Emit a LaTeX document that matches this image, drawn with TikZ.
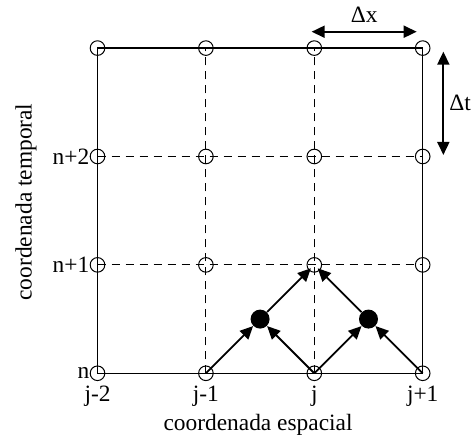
\documentclass[tikz,border=0pt]{standalone}
\usepackage{fontspec}
\setmainfont{Liberation Serif}
\usetikzlibrary{positioning, arrows.meta}

\begin{document}
\begin{tikzpicture}[x=54.2pt, y=54.2pt, font=\fontsize{11.7}{14}\selectfont,
  gridpt/.style={circle, draw, line width=0.5pt, inner sep=0pt, minimum size=7.3pt},
  midpt/.style={circle, fill, inner sep=0pt, minimum size=9.5pt},
  stencil/.style={line width=0.9pt, -{Triangle[length=6.5pt, width=6pt]}},
  delta/.style={line width=0.9pt, {Triangle[length=6.5pt, width=6pt]}-{Triangle[length=6.5pt, width=6pt]}},
  gridline/.style={line width=0.5pt, dash pattern=on 4pt off 3pt},
  ticklab/.style={inner sep=0pt}]
  \useasboundingbox (-0.8995,-0.606) rectangle (3.464,3.4437);

  % mesh points
  \foreach \i in {0,...,3}
    \foreach \k in {0,...,3}
      \coordinate (c-\i-\k) at (\i,\k);

  % mesh lines
  \draw[line width=0.7pt] (c-0-0) rectangle (c-3-3);
  \foreach \i in {1,2} {
    \draw[gridline] (c-\i-0) -- (c-\i-3);
    \draw[gridline] (c-0-\i) -- (c-3-\i);
  }
  \foreach \i in {0,...,3}
    \foreach \k in {0,...,3}
      \node[gridpt] (g-\i-\k) at (c-\i-\k) {};

  % row and column labels
  \node[ticklab, left=0pt of g-0-0] (n0) {n};
  \node[ticklab, left=0pt of g-0-1] (n1) {n+1};
  \node[ticklab, left=0pt of g-0-2] (n2) {n+2};
  \node[ticklab, below=2.2pt of g-0-0] (j0) {j-2};
  \node[ticklab, below=2.2pt of g-1-0] (j1) {j-1};
  \node[ticklab, below=2.2pt of g-2-0] (j2) {j};
  \node[ticklab, below=2.2pt of g-3-0] (j3) {j+1};

  % intermediate points
  \node[midpt] (m1) at (1.5,0.5) {};
  \node[midpt] (m2) at (2.5,0.5) {};
  \draw[stencil] (c-1-0) -- (m1);
  \draw[stencil] (c-2-0) -- (m1);
  \draw[stencil] (c-2-0) -- (m2);
  \draw[stencil] (c-3-0) -- (m2);
  \draw[stencil, shorten >=-1.5pt] (m1) -- (g-2-1);
  \draw[stencil, shorten >=-1.5pt] (m2) -- (g-2-1);

  % steps
  \coordinate (dx1) at (1.9756,3.151);
  \coordinate (dx2) at (2.9446,3.151);
  \draw[delta] (dx1) -- node[above=1pt] (dxl) {Δx} (dx2);
  \coordinate (dt1) at (3.1905,2.967);
  \coordinate (dt2) at (3.1905,2.014);
  \draw[delta] (dt1) -- node[right=0pt, inner sep=2.5pt] (dtl) {Δt} (dt2);

  % axes
  \node (xlab) at (1.481,-0.476) {coordenada espacial};
  \node[rotate=90] (ylab) at (-0.6596,1.580) {coordenada temporal};
\end{tikzpicture}
\end{document}
